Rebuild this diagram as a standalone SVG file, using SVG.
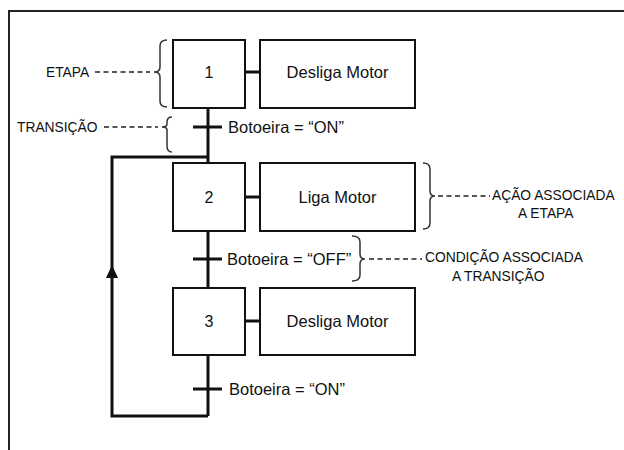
<svg xmlns="http://www.w3.org/2000/svg" width="624" height="450" viewBox="0 0 624 450">
<defs>
<style>
.box{fill:#fff;stroke:#111;stroke-width:2}
.ln{fill:none;stroke:#111;stroke-width:3}
.br{fill:none;stroke:#333;stroke-width:1.5}
.dash{fill:none;stroke:#222;stroke-width:1.3;stroke-dasharray:5,3.5}
.t{font-family:"Liberation Sans",Arial,sans-serif;font-size:16.5px;fill:#111}
.n{font-family:"Liberation Sans",Arial,sans-serif;font-size:16px;fill:#111;text-anchor:middle}
.lab{font-family:"Liberation Sans",Arial,sans-serif;font-size:13.8px;fill:#111}
</style>
</defs>
<rect x="0" y="0" width="624" height="450" fill="#fff"/>
<path d="M9,460 L9,11 L630,11" fill="none" stroke="#222" stroke-width="2"/>

<g id="connectors">
<line class="ln" x1="208" y1="108" x2="208" y2="163"/>
<line class="ln" x1="208" y1="231" x2="208" y2="288"/>
<line class="ln" x1="208" y1="355" x2="208" y2="416"/>
<line class="ln" x1="193" y1="127" x2="222" y2="127"/>
<line class="ln" x1="193" y1="259" x2="222" y2="259"/>
<line class="ln" x1="193" y1="389" x2="222" y2="389"/>
<path class="ln" d="M208,416 L112,416 L112,157 L208,157"/>
<path d="M112,265 L106,278 L118,278 Z" fill="#111"/>
<line class="ln" x1="245" y1="72" x2="260" y2="72"/>
<line class="ln" x1="245" y1="197" x2="260" y2="197"/>
<line class="ln" x1="245" y1="321" x2="260" y2="321"/>
</g>

<g id="step1">
<rect class="box" x="173" y="40" width="72" height="68"/>
<text class="n" x="209" y="78">1</text>
</g>
<g id="action1">
<rect class="box" x="260" y="40" width="155" height="68"/>
<text class="t" x="337.5" y="78" text-anchor="middle">Desliga Motor</text>
</g>
<g id="step2">
<rect class="box" x="173" y="163" width="72" height="68"/>
<text class="n" x="209" y="203">2</text>
</g>
<g id="action2">
<rect class="box" x="260" y="163" width="155" height="68"/>
<text class="t" x="337.5" y="203" text-anchor="middle">Liga Motor</text>
</g>
<g id="step3">
<rect class="box" x="173" y="288" width="72" height="67"/>
<text class="n" x="209" y="327">3</text>
</g>
<g id="action3">
<rect class="box" x="260" y="288" width="155" height="67"/>
<text class="t" x="337.5" y="327" text-anchor="middle">Desliga Motor</text>
</g>

<g id="transition1"><text class="t" x="228" y="133">Botoeira = “ON”</text></g>
<g id="transition2"><text class="t" x="227" y="265">Botoeira = “OFF”</text></g>
<g id="transition3"><text class="t" x="229" y="395">Botoeira = “ON”</text></g>

<g id="note-etapa">
<path class="br" d="M167,40 Q160,40 160,46 L160,67 Q160,72 154,72 Q160,72 160,77 L160,101 Q160,107 167,107"/>
<line class="dash" x1="95" y1="72" x2="150" y2="72"/>
<text class="lab" x="46" y="77">ETAPA</text>
</g>
<g id="note-transicao">
<path class="br" d="M172,117 Q167,117 167,122 L167,124 Q167,127 162,127 Q167,127 167,130 L167,146 Q167,152 172,152"/>
<line class="dash" x1="104" y1="127" x2="158" y2="127"/>
<text class="lab" x="17" y="132">TRANSIÇÃO</text>
</g>
<g id="note-acao">
<path class="br" d="M423,163 Q430,163 430,169 L430,191 Q430,196 435,196 Q430,196 430,201 L430,223 Q430,229 423,229"/>
<line class="dash" x1="438" y1="196" x2="490" y2="196"/>
<text class="lab" x="492" y="200">AÇÃO ASSOCIADA</text>
<text class="lab" x="518" y="218">A ETAPA</text>
</g>
<g id="note-condicao">
<path class="br" d="M352,236 Q360,236 360,242 L360,254 Q360,259 365,259 Q360,259 360,264 L360,275 Q360,281 352,281"/>
<line class="dash" x1="369" y1="259" x2="422" y2="259"/>
<text class="lab" x="425" y="262">CONDIÇÃO ASSOCIADA</text>
<text class="lab" x="452" y="281">A TRANSIÇÃO</text>
</g>
</svg>
